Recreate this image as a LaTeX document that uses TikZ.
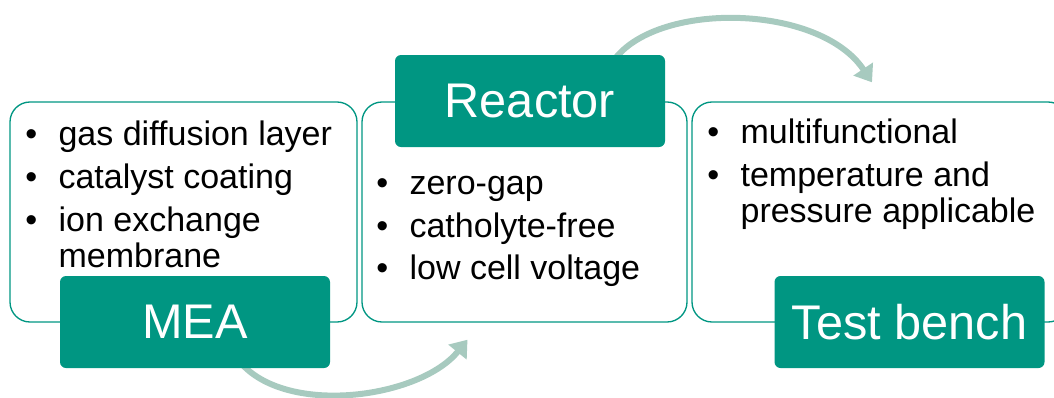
\documentclass[tikz,border=0pt]{standalone}
\usepackage{fontspec}
\setmainfont{Liberation Sans}
\usepackage{tikz}
\usetikzlibrary{arrows.meta,positioning,backgrounds}

\definecolor{kitgreen}{RGB}{0,150,130}
\definecolor{kitarrow}{RGB}{167,202,191}

\newcommand{\bitem}{\makebox[25pt][l]{\textbullet}}
\newcommand{\bskip}{\hspace*{25pt}}

\begin{document}
\begin{tikzpicture}[
    x=0.75pt, y=-0.75pt,
    panel/.style={rectangle, draw=kitgreen, line width=1pt, rounded corners=15pt, minimum height=165pt},
    tag/.style={rectangle, fill=kitgreen, rounded corners=4.5pt, text=white, font=\fontsize{36.5}{40}\selectfont, minimum width=202.5pt, minimum height=69pt},
    items/.style={anchor=north west, inner sep=0pt, align=left, font=\fontsize{25.5}{27}\selectfont},
    arrow/.style={-{Triangle[length=12pt, width=17pt]}, line width=4.5pt, draw=kitarrow}
]
\useasboundingbox (0,0) rectangle (1054,397);

\node[panel, minimum width=260.25pt] (meabox) at (183.5,212) {};
\node[panel, minimum width=243.75pt] (reactorbox) at (524.5,212) {};
\node[panel, minimum width=282pt] (benchbox) at (880,212) {};

\node[items] (mealist) at (25,121) {\bitem gas diffusion layer\\[5pt] \bitem catalyst coating\\[5pt] \bitem ion exchange\\ \bskip membrane};
\node[items] (reactorlist) at (376,176) {\bitem zero-gap\\[5pt] \bitem catholyte-free\\[5pt] \bitem low cell voltage};
\node[items] (benchlist) at (707,119) {\bitem multifunctional\\[5pt] \bitem temperature and\\ \bskip pressure applicable};

\node[tag] (mea) at (195,322) {MEA};
\node[tag] (reactor) at (530,101) {Reactor};
\node[tag] (bench) at (909.5,322) {Test bench};

\begin{pgfonlayer}{background}
\draw[arrow] ([shift={(47,-4)}]mea.south) .. controls +(48,52) and +(-47,58) .. ([shift={(-57,17)}]reactorbox.south);
\draw[arrow] ([shift={(85,4)}]reactor.north) .. controls +(45,-58) and +(-52,-78) .. ([shift={(-8,-19)}]benchbox.north);
\end{pgfonlayer}

\end{tikzpicture}
\end{document}
